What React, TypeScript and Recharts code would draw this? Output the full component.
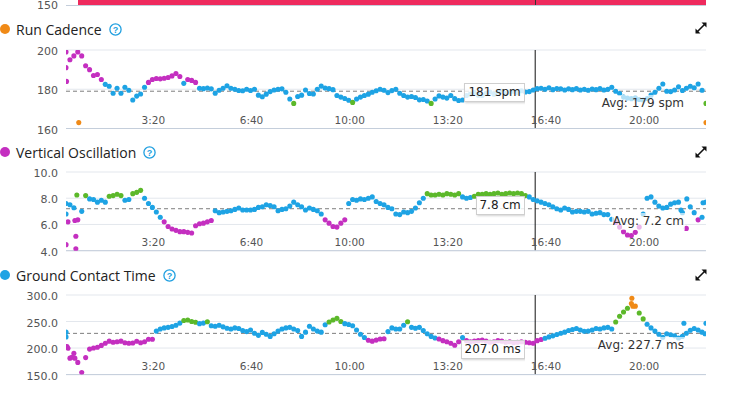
import React from 'react';
import { ScatterChart, Scatter, XAxis, YAxis, CartesianGrid, ReferenceLine, ReferenceDot } from 'recharts';

// ---- time axis (seconds) ----
const SAMPLE_START = 22;
const SAMPLE_STEP = 8;
const TIME_DOMAIN: [number, number] = [22, 1326];
const TIME_TICKS = [200, 400, 600, 800, 1000, 1200];
const CURSOR_TIME = 978;

// ---- Run Cadence (spm) ----
const cadenceValues = [
  199, 195, 197, 199, 197, 192, 190, 187, 187.5, 185,
  182.5, 181.5, 178, 180.5, 178, 181, 179.5, 174.5, 176.5, 177.6,
  181, 183.5, 185, 185.5, 185.3, 185.6, 186, 186.8, 188, 186.5,
  183, 185, 184.5, 183.5, 180.5, 180.3, 180.6, 180.2, 178, 179.5,
  180.5, 181.8, 180.5, 180, 179.4, 179.2, 180, 179.4, 180, 177,
  176.2, 177.5, 178.8, 179.6, 180, 180.2, 178.5, 175, 172.8, 176.3,
  177, 179.6, 177.8, 177.6, 180, 181.6, 180.6, 180.3, 179.8, 176.8,
  176, 175.3, 174.4, 173.3, 175, 176, 176.8, 177.5, 178.5, 179.2,
  180, 179.5, 178.3, 179.3, 180, 178, 176.8, 176, 176.3, 175.8,
  174.6, 174.8, 174, 172.8, 175, 176.6, 176, 175.5, 176.8, 175.2,
  174.3, 174.5, 176.8, 177.5, 178.3, 177, 176.8, 178, 178.6, 177.5,
  178.5, 179, 177.8, 178.6, 179, 178.2, 179.2, 178.6, 178.8, 179.6,
  180.3, 180.5, 180, 180.8, 179.8, 180.4, 180.2, 179.6, 180.2, 179.8,
  180.3, 179.6, 180, 179.5, 180.1, 179.8, 180.4, 179.6, 180, 181,
  179, 177.8, 176, 175.5, 175.2, 175.6, 174.8, 174.5, 175.3, 177,
  178.5, 180.5, 182.7, 179, 178.8, 179.6, 181.3, 179.4, 180.5, 181.5,
  180.8, 182.7, 179.5, 172.8,
];
const cadenceExtra: [number, number][] = [[22, 191], [23, 184], [48, 163], [1326, 163]];
const cadenceTicks = [160, 180, 200];
const cadenceAvg = 179;
const cadenceCursor = 181;

// ---- Vertical Oscillation (cm) ----
const voValues = [
  7.6, 7.5, 7.27, 6.35, 7.0, 8.2, 7.95, 7.9, 7.7, 7.85,
  7.7, 8.15, 8.2, 8.3, 8.2, 7.85, 7.9, 8.35, 8.45, 8.6,
  8.0, 7.6, 7.3, 6.95, 6.55, 6.2, 5.85, 5.65, 5.55, 5.45,
  5.45, 5.4, 5.35, 5.9, 6.05, 6.1, 6.2, 6.3, 7.05, 6.9,
  6.95, 7.0, 7.05, 7.15, 7.25, 7.1, 7.1, 7.1, 7.15, 7.3,
  7.35, 7.5, 7.45, 7.35, 7.05, 7.15, 7.2, 7.4, 7.7, 7.5,
  7.35, 7.1, 7.25, 7.15, 7.05, 6.8, 6.35, 6.1, 5.85, 5.8,
  6.1, 6.35, 7.6, 7.9, 7.85, 7.95, 7.9, 8.0, 8.1, 7.75,
  7.6, 7.5, 7.3, 7.2, 6.8, 6.75, 6.95, 6.9, 7.0, 7.25,
  7.65, 8.0, 8.35, 8.25, 8.25, 8.3, 8.25, 8.35, 8.3, 8.25,
  8.35, 8.1, 8.0, 8.05, 8.15, 8.3, 8.3, 8.35, 8.3, 8.35,
  8.4, 8.3, 8.35, 8.4, 8.35, 8.4, 8.35, 8.2, 8.1, 7.9,
  7.8, 7.7, 7.6, 7.5, 7.35, 7.2, 7.1, 7.25, 7.15, 6.95,
  7.0, 7.0, 6.95, 7.0, 6.8, 6.85, 6.9, 6.75, 6.75, 6.4,
  6.15, 5.8, 5.45, 5.2, 5.15, 5.4, 5.8, 6.8, 8.0, 8.1,
  7.7, 7.4, 7.25, 7.3, 7.55, 7.65, 7.7, 6.9, 5.7, 7.35,
  6.9, 6.35, 6.55, 7.7,
];
const voExtra: [number, number][] = [
  [22, 4.46], [22, 6.8], [26, 6.2], [40, 6.3], [42, 5.1], [42, 4.15], [44, 8.25],
  [1275, 7.1], [1287, 7.95], [1320, 7.65],
];
const voTicks = [4, 6, 8, 10];
const voAvg = 7.2;
const voCursor = 7.8;

// ---- Ground Contact Time (ms) ----
const gctValues = [
  230, 181, 190, 173, 154, 182, 198, 200, 201.5, 205,
  209, 213, 211, 212, 213, 210, 209, 209.5, 212.8, 210,
  212, 216.5, 216.5, 232, 236, 238, 239, 240.5, 243, 247,
  252, 253, 250, 248.6, 246, 247, 249.5, 242, 241, 243,
  240, 237.3, 236, 238, 237, 233, 231, 234, 228, 224,
  229.5, 226, 222, 227, 232, 236, 238, 239, 236, 233,
  222, 230, 241, 236, 232, 230, 244, 249, 253, 256,
  250, 246, 244.5, 242, 234, 226, 220, 214.6, 213, 215,
  217, 217.5, 231, 238, 236, 236, 243, 249.5, 239, 237.3,
  239, 233, 227, 222, 219, 217, 214, 212, 209, 205.3,
  212, 220, 214, 212, 213, 214, 215, 213, 211, 212,
  214, 213, 211, 212, 210, 211, 212, 211, 210, 209,
  214, 216, 218.5, 221, 223, 225.6, 228, 230, 233, 235,
  237, 234, 231.6, 232, 234, 237, 236, 238, 239, 236,
  249, 260, 268, 275, 284, 279, 266, 255, 245, 238,
  232, 226, 220.4, 227, 225, 223, 219, 222, 228, 233.5,
  237, 234, 230, 246.7,
];
const gctExtra: [number, number][] = [
  [22, 221], [24, 203], [26, 199.6], [34, 182.6], [40, 181],
  [1175, 293.8], [1177, 278.7], [1281, 246.7], [1324, 227],
];
const gctTicks = [150, 200, 250, 300];
const gctAvg = 227.7;
const gctCursor = 207.0;

// ---- colours ----
const PURPLE = '#c42fc0';
const BLUE = '#1ea3e4';
const GREEN = '#5cb82a';
const ORANGE = '#f08a17';
const RED = '#ee2a5d';

const cadenceZone = (v: number) => (v >= 183.5 ? PURPLE : v >= 173.5 ? BLUE : v >= 163.5 ? GREEN : v >= 152.5 ? ORANGE : RED);
const voZone = (v: number) => (v < 6.4 ? PURPLE : v < 8.15 ? BLUE : v < 9.75 ? GREEN : v < 11.55 ? ORANGE : RED);
const gctZone = (v: number) => (v < 218 ? PURPLE : v < 248.5 ? BLUE : v < 277.5 ? GREEN : v < 308.5 ? ORANGE : RED);

const fmtTime = (s: number) => {
  const m = Math.floor(s / 60);
  const r = Math.round(s % 60);
  return `${m}:${r < 10 ? '0' : ''}${r}`;
};

const TICK_FONT = '"DejaVu Sans", sans-serif';

function XTick(props: any) {
  const { x, y, payload } = props;
  return (
    <text x={x} y={y - 4.5} textAnchor="middle" fontSize={10.5} fill="#555" fontFamily={TICK_FONT}>
      {fmtTime(payload.value)}
    </text>
  );
}

function makeYTick(fmt: (v: number) => string) {
  return (props: any) => {
    const { y, payload } = props;
    return (
      <text x={58} y={y + 5} textAnchor="end" fontSize={11} fill="#555" fontFamily={TICK_FONT}>
        {fmt(payload.value)}
      </text>
    );
  };
}

function makeDot(zone: (v: number) => string) {
  return (props: any) => {
    const { cx, cy, payload } = props;
    if (cx == null || cy == null) return <g />;
    return <circle cx={cx} cy={cy} r={2.55} fill={zone(payload.v)} />;
  };
}

function makeAvgLabel(text: string) {
  return (props: any) => {
    const { cx, cy } = props;
    return (
      <foreignObject x={cx - 21 - 200} y={cy + 4} width={200} height={18}>
        <div style={{ display: 'flex', justifyContent: 'flex-end', width: '100%' }}>
          <span
            style={{
              fontFamily: TICK_FONT,
              fontSize: 12,
              lineHeight: '17px',
              color: '#333',
              background: 'rgba(255,255,255,0.65)',
              padding: '0 1px',
              whiteSpace: 'nowrap',
            }}
          >
            {text}
          </span>
        </div>
      </foreignObject>
    );
  };
}

function makeCursorLabel(text: string) {
  return (props: any) => {
    const { cx, cy } = props;
    return (
      <foreignObject x={cx - 10.5 - 200} y={cy - 4.5} width={200} height={24}>
        <div style={{ display: 'flex', justifyContent: 'flex-end', width: '100%' }}>
          <span
            style={{
              fontFamily: TICK_FONT,
              fontSize: 12,
              lineHeight: '17px',
              color: '#222',
              background: 'rgba(255,255,255,0.82)',
              border: '1px solid #cfcfcf',
              boxShadow: '1px 1px 2px rgba(0,0,0,0.18)',
              padding: '0 3px',
              whiteSpace: 'nowrap',
            }}
          >
            {text}
          </span>
        </div>
      </foreignObject>
    );
  };
}

type PanelProps = {
  plotTop: number;
  plotBottom: number;
  values: number[];
  extra: [number, number][];
  yDomain: [number, number];
  yTicks: number[];
  yFmt: (v: number) => string;
  avg: number;
  avgText: string;
  cursorValue: number;
  cursorText: string;
  zone: (v: number) => string;
};

function Panel(p: PanelProps) {
  const mTop = 10;
  const axisH = 14;
  const h = p.plotBottom - p.plotTop + mTop + axisH;
  const data = p.values.map((v, i) => ({ t: SAMPLE_START + i * SAMPLE_STEP, v }));
  const extraData = p.extra.map(([t, v]) => ({ t, v }));
  const Dot = makeDot(p.zone);
  return (
    <div style={{ position: 'absolute', left: 0, top: p.plotTop - mTop }}>
      <ScatterChart width={734} height={h} margin={{ top: mTop, right: 28, bottom: 0, left: 0 }}>
        <CartesianGrid horizontal vertical={false} stroke="#e3e7ed" />
        <XAxis
          type="number"
          dataKey="t"
          domain={TIME_DOMAIN}
          ticks={TIME_TICKS}
          interval={0}
          height={axisH}
          axisLine={{ stroke: '#c4cedb' }}
          tickLine={false}
          tickSize={0}
          tickMargin={0}
          tick={XTick}
          allowDataOverflow
        />
        <YAxis
          type="number"
          dataKey="v"
          domain={p.yDomain}
          ticks={p.yTicks}
          interval={0}
          width={66}
          axisLine={false}
          tickLine={false}
          tick={makeYTick(p.yFmt)}
          allowDataOverflow
        />
        <ReferenceLine y={p.avg} stroke="#7d7d7d" strokeDasharray="4 3" />
        <Scatter data={data} isAnimationActive={false} shape={Dot} />
        <Scatter data={extraData} isAnimationActive={false} shape={Dot} />
        <ReferenceLine x={CURSOR_TIME} stroke="#111" strokeWidth={1} />
        <ReferenceDot x={TIME_DOMAIN[1]} y={p.avg} shape={makeAvgLabel(p.avgText)} />
        <ReferenceDot x={CURSOR_TIME} y={p.cursorValue} shape={makeCursorLabel(p.cursorText)} />
      </ScatterChart>
    </div>
  );
}

function HelpIcon() {
  return (
    <svg width={13} height={13} style={{ marginLeft: 7 }}>
      <circle cx={6.5} cy={6.5} r={5.6} fill="none" stroke="#1f9fe0" strokeWidth={1.3} />
      <text x={6.5} y={10} textAnchor="middle" fontSize={9} fontWeight="bold" fill="#1f9fe0" fontFamily="Arial, sans-serif">
        ?
      </text>
    </svg>
  );
}

function ExpandIcon({ top }: { top: number }) {
  return (
    <svg width={14} height={14} style={{ position: 'absolute', left: 694, top }}>
      <path d="M3 11 L11 3" stroke="#111" strokeWidth={1.6} />
      <path d="M7.5 1.5 L12.5 1.5 L12.5 6.5 Z" fill="#111" />
      <path d="M1.5 7.5 L1.5 12.5 L6.5 12.5 Z" fill="#111" />
    </svg>
  );
}

function Title({ top, color, text }: { top: number; color: string; text: string }) {
  return (
    <div style={{ position: 'absolute', left: 0, top: top - 10, height: 20, display: 'flex', alignItems: 'center' }}>
      <div style={{ width: 10, height: 10, borderRadius: 5, background: color, marginRight: 6 }} />
      <span style={{ fontFamily: '"Open Sans", sans-serif', fontSize: 14, color: '#222', whiteSpace: 'nowrap' }}>{text}</span>
      <HelpIcon />
    </div>
  );
}

export default function App() {
  return (
    <div style={{ position: 'absolute', left: 0, top: 0, width: 734, height: 418, background: '#fff', overflow: 'hidden' }}>
      {/* bottom edge of the chart above */}
      <div style={{ position: 'absolute', left: 78, top: 0, width: 628, height: 4.5, background: RED }} />
      <div style={{ position: 'absolute', left: 66, top: 4.5, width: 640, height: 1, background: '#c4cedb' }} />
      <div style={{ position: 'absolute', left: 535, top: 0, width: 1, height: 5, background: '#333' }} />
      <div style={{ position: 'absolute', left: 20, top: -1, width: 38, textAlign: 'right', fontFamily: TICK_FONT, fontSize: 11, color: '#555' }}>150</div>

      <Title top={29} color={ORANGE} text="Run Cadence" />
      <ExpandIcon top={21} />
      <Panel
        plotTop={49.5}
        plotBottom={128}
        values={cadenceValues}
        extra={cadenceExtra}
        yDomain={[160, 200]}
        yTicks={cadenceTicks}
        yFmt={(v) => `${v}`}
        avg={cadenceAvg}
        avgText={`Avg: ${cadenceAvg} spm`}
        cursorValue={cadenceCursor}
        cursorText={`${cadenceCursor} spm`}
        zone={cadenceZone}
      />

      <Title top={152} color={PURPLE} text="Vertical Oscillation" />
      <ExpandIcon top={145} />
      <Panel
        plotTop={172.3}
        plotBottom={251}
        values={voValues}
        extra={voExtra}
        yDomain={[4, 10]}
        yTicks={voTicks}
        yFmt={(v) => v.toFixed(1)}
        avg={voAvg}
        avgText={`Avg: ${voAvg.toFixed(1)} cm`}
        cursorValue={voCursor}
        cursorText={`${voCursor.toFixed(1)} cm`}
        zone={voZone}
      />

      <Title top={275} color={BLUE} text="Ground Contact Time" />
      <ExpandIcon top={268} />
      <Panel
        plotTop={294.7}
        plotBottom={374.3}
        values={gctValues}
        extra={gctExtra}
        yDomain={[150, 300]}
        yTicks={gctTicks}
        yFmt={(v) => v.toFixed(1)}
        avg={gctAvg}
        avgText={`Avg: ${gctAvg.toFixed(1)} ms`}
        cursorValue={gctCursor}
        cursorText={`${gctCursor.toFixed(1)} ms`}
        zone={gctZone}
      />
    </div>
  );
}
